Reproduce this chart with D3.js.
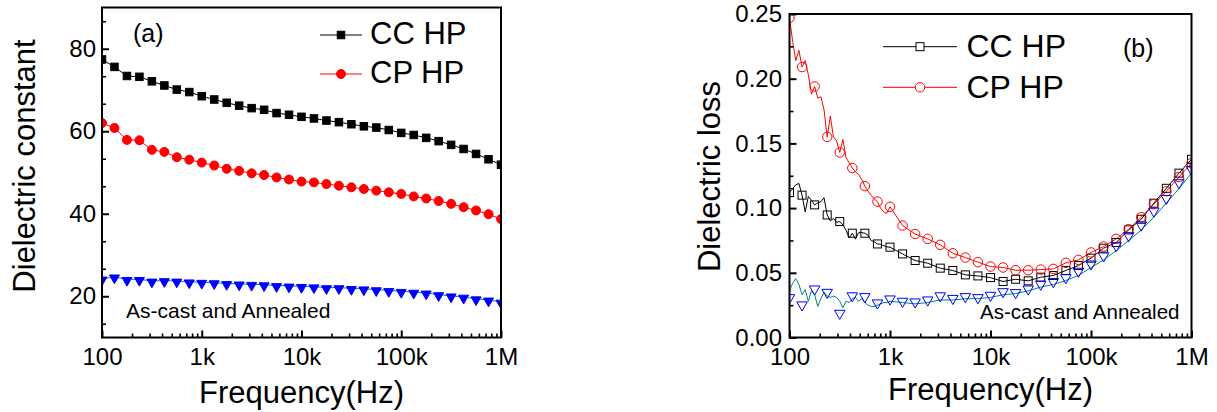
<!DOCTYPE html>
<html>
<head>
<meta charset="utf-8">
<script src="https://cdn.jsdelivr.net/npm/d3@7"></script>
<style>
  html, body { margin: 0; padding: 0; background: #fff; }
  svg { display: block; font-family: "Liberation Sans", Arial, Helvetica, sans-serif; }
</style>
</head>
<body>
<svg id="chart" width="1217" height="412"></svg>
<script>
// ---------- data ----------
const freqTickValues = [100, 1e3, 1e4, 1e5, 1e6];
const freqTickLabels = ["100", "1k", "10k", "100k", "1M"];

// measurement sweep, 8 points per decade (Hz)
const sweepFreq = [100, 133.35, 177.83, 237.14, 316.23, 421.70, 562.34, 749.89,
  1000, 1333.5, 1778.3, 2371.4, 3162.3, 4217.0, 5623.4, 7498.9,
  10000, 13335, 17783, 23714, 31623, 42170, 56234, 74989,
  100000, 133352, 177828, 237137, 316228, 421697, 562341, 749894, 1000000];

// (a) dielectric constant
const constCC = [77.4, 75.6, 73.4, 73.2, 72.1, 71.1, 70.1, 69.5, 68.5, 67.7, 66.9, 66.2, 65.6, 65.2, 64.4, 64.0,
  63.5, 63.1, 62.6, 62.2, 61.7, 61.2, 60.9, 60.3, 59.6, 59.1, 58.4, 57.6, 56.7, 55.7, 54.5, 53.2, 51.9];
const constCP = [62.0, 60.8, 57.9, 57.8, 55.5, 55.0, 53.7, 53.1, 52.4, 51.7, 50.9, 50.4, 49.8, 49.4, 48.8, 48.3,
  47.8, 47.6, 47.2, 46.8, 46.4, 46.0, 45.6, 45.2, 44.8, 44.2, 43.7, 43.1, 42.4, 41.6, 40.8, 39.9, 38.7];
const constAsCast = [23.6, 24.1, 23.5, 23.5, 23.1, 23.2, 23.1, 22.9, 22.8, 22.7, 22.5, 22.4, 22.3, 22.2, 22.0, 21.9,
  21.8, 21.7, 21.5, 21.5, 21.3, 21.2, 21.0, 20.8, 20.6, 20.4, 20.2, 19.8, 19.5, 19.2, 18.8, 18.5, 18.0];
const constAnnealed = [24.2, 24.7, 24.1, 24.1, 23.7, 23.8, 23.7, 23.5, 23.4, 23.3, 23.1, 23.0, 22.9, 22.8, 22.6, 22.5,
  22.4, 22.3, 22.1, 22.1, 21.9, 21.8, 21.6, 21.4, 21.2, 21.0, 20.8, 20.4, 20.1, 19.8, 19.4, 19.1, 18.6];

// (b) dielectric loss: dense trace in the first decade (32 points per decade) ...
const lossFreqLow = [100, 107.46, 115.48, 124.09, 133.35, 143.30, 153.99, 165.48, 177.83, 191.09, 205.35,
  220.67, 237.14, 254.83, 273.84, 294.27, 316.23, 339.82, 365.17, 392.42, 421.70, 453.16, 486.97,
  523.30, 562.34, 604.30, 649.38, 697.83, 749.89, 805.84, 865.96, 930.57, 1000];
const lossCCLow = [0.112, 0.115, 0.118, 0.119, 0.110, 0.097, 0.109, 0.106, 0.1025, 0.104, 0.105, 0.108, 0.0947,
  0.090, 0.092, 0.089, 0.0896, 0.087, 0.083, 0.077, 0.0806, 0.076, 0.081, 0.081, 0.0806, 0.079, 0.075,
  0.074, 0.0723, 0.072, 0.071, 0.070, 0.0698];
const lossCPLow = [0.247, 0.229, 0.214, 0.222, 0.209, 0.214, 0.203, 0.188, 0.194, 0.185, 0.186, 0.176, 0.155,
  0.171, 0.155, 0.152, 0.143, 0.153, 0.139, 0.135, 0.131, 0.128, 0.126, 0.122, 0.117, 0.113, 0.110,
  0.107, 0.105, 0.100, 0.097, 0.096, 0.101];
const lossAnnealedLow = [0.036, 0.042, 0.0455, 0.041, 0.033, 0.037, 0.028, 0.036, 0.033, 0.024, 0.030, 0.035,
  0.032, 0.031, 0.032, 0.031, 0.028, 0.023, 0.028, 0.027, 0.030, 0.031, 0.028, 0.030, 0.027, 0.025,
  0.024, 0.024, 0.025, 0.026, 0.027, 0.027, 0.028];
// ... and the sweep points above 1 kHz (sweepFreq[9..32])
const lossCCHigh = [0.0646, 0.0595, 0.0574, 0.0536, 0.0518, 0.0484, 0.0476, 0.0463, 0.0433, 0.0450, 0.0438,
  0.0466, 0.0479, 0.0518, 0.0556, 0.0613, 0.0690, 0.0734, 0.0832, 0.0914, 0.1038, 0.1153, 0.1270, 0.1377];
const lossCPHigh = [0.0865, 0.0800, 0.0762, 0.0716, 0.0651, 0.0618, 0.0582, 0.0548, 0.0541, 0.0520, 0.0520,
  0.0525, 0.0530, 0.0577, 0.0600, 0.0657, 0.0703, 0.0762, 0.0837, 0.0930, 0.1030, 0.1130, 0.1240, 0.1347];
const lossAnnealedHigh = [0.027, 0.026, 0.027, 0.029, 0.029, 0.030, 0.030, 0.031, 0.033, 0.034, 0.036,
  0.039, 0.041, 0.044, 0.048, 0.054, 0.060, 0.067, 0.075, 0.083, 0.093, 0.104, 0.115, 0.127];
// as-cast loss, symbols only, one per sweep point
const lossAsCast = [0.0296, 0.0240, 0.0363, 0.0337, 0.0175, 0.0310, 0.0304, 0.0255, 0.0286, 0.0268, 0.0263,
  0.0278, 0.0310, 0.0290, 0.0304, 0.0296, 0.0314, 0.0342, 0.0335, 0.0363, 0.0400, 0.0420, 0.0450,
  0.0500, 0.0556, 0.0618, 0.0698, 0.0775, 0.0857, 0.0965, 0.1063, 0.1184, 0.1287];

const seriesNames = ["CC HP", "CP HP"];
const sampleNote = "As-cast and Annealed";

// ---------- drawing ----------
const svg = d3.select("#chart");
const BLACK = "#000", RED = "#ff0000", BLUE = "#0000ff", TEAL = "#008080";

function zip(xs, ys) { return xs.map((f, i) => [f, ys[i]]); }

function symbol(g, shape, cx, cy, size, fill, stroke) {
  if (shape === "square") {
    g.append("rect").attr("x", cx - size / 2).attr("y", cy - size / 2)
      .attr("width", size).attr("height", size)
      .attr("fill", fill).attr("stroke", stroke).attr("stroke-width", 1);
  } else if (shape === "circle") {
    g.append("circle").attr("cx", cx).attr("cy", cy).attr("r", size / 2)
      .attr("fill", fill).attr("stroke", stroke).attr("stroke-width", 1);
  } else if (shape === "tri") {
    const w = size, h = size * 0.87;
    g.append("path")
      .attr("d", `M${cx - w / 2},${cy - h / 2}L${cx + w / 2},${cy - h / 2}L${cx},${cy + h / 2}Z`)
      .attr("fill", fill).attr("stroke", stroke).attr("stroke-width", 1);
  }
}

function panel(box, yDomain, yMajor, yMinor, yFmt, yPad, id) {
  const x = d3.scaleLog().domain([100, 1e6]).range([box.left, box.right]);
  const y = d3.scaleLinear().domain(yDomain).range([box.bottom, box.top]);
  const g = svg.append("g");

  svg.append("clipPath").attr("id", id)
    .append("rect").attr("x", box.left).attr("y", box.top)
    .attr("width", box.right - box.left).attr("height", box.bottom - box.top);
  const plot = g.append("g").attr("clip-path", `url(#${id})`);

  // minor log ticks on the frequency axis
  const xMinor = [];
  [100, 1e3, 1e4, 1e5].forEach(d => { for (let m = 2; m <= 9; m++) xMinor.push(d * m); });

  const xAxis = g.append("g").attr("transform", `translate(0,${box.bottom})`)
    .call(d3.axisBottom(x).tickValues(freqTickValues).tickFormat((d, i) => freqTickLabels[i])
      .tickSizeInner(-7).tickSizeOuter(0).tickPadding(10.5));
  const xAxisMinor = g.append("g").attr("transform", `translate(0,${box.bottom})`)
    .call(d3.axisBottom(x).tickValues(xMinor).tickFormat("").tickSizeInner(-4).tickSizeOuter(0));
  const yAxis = g.append("g").attr("transform", `translate(${box.left},0)`)
    .call(d3.axisLeft(y).tickValues(yMajor).tickFormat(yFmt)
      .tickSizeInner(-7).tickSizeOuter(0).tickPadding(yPad));
  const yAxisMinor = g.append("g").attr("transform", `translate(${box.left},0)`)
    .call(d3.axisLeft(y).tickValues(yMinor).tickFormat("").tickSizeInner(-4).tickSizeOuter(0));

  [xAxis, xAxisMinor, yAxis, yAxisMinor].forEach(a => {
    a.select(".domain").remove();
    a.selectAll("line").attr("stroke", BLACK).attr("stroke-width", 2);
    a.selectAll("text").attr("font-size", 24).attr("fill", BLACK)
      .attr("font-family", '"Liberation Sans", Arial, sans-serif');
  });
  [xAxisMinor, yAxisMinor].forEach(a => a.selectAll("line").attr("stroke-width", 1.6));

  g.append("rect").attr("x", box.left).attr("y", box.top)
    .attr("width", box.right - box.left).attr("height", box.bottom - box.top)
    .attr("fill", "none").attr("stroke", BLACK).attr("stroke-width", 2);

  const line = d3.line().x(d => x(d[0])).y(d => y(d[1]));
  return { x, y, g, plot, line };
}

// ---- (a) dielectric constant ----
const A = panel({ left: 102, right: 501, top: 7.5, bottom: 337.5 }, [10, 90],
  [20, 40, 60, 80], [13.33, 26.67, 33.33, 46.67, 53.33, 66.67, 73.33, 86.67],
  d3.format("d"), 6, "clipA");

A.plot.append("path").datum(zip(sweepFreq, constAnnealed)).attr("d", A.line)
  .attr("fill", "none").attr("stroke", TEAL).attr("stroke-width", 1);
A.plot.append("path").datum(zip(sweepFreq, constCC)).attr("d", A.line)
  .attr("fill", "none").attr("stroke", BLACK).attr("stroke-width", 1);
A.plot.append("path").datum(zip(sweepFreq, constCP)).attr("d", A.line)
  .attr("fill", "none").attr("stroke", RED).attr("stroke-width", 1);
sweepFreq.forEach((f, i) => {
  symbol(A.plot, "square", A.x(f), A.y(constCC[i]), 7.5, BLACK, BLACK);
  symbol(A.plot, "circle", A.x(f), A.y(constCP[i]), 9, RED, RED);
  symbol(A.plot, "tri", A.x(f), A.y(constAsCast[i]), 10, BLUE, BLUE);
});

// legend (a)
[[35, BLACK, "square"], [74, RED, "circle"]].forEach(([ly, c, s], i) => {
  A.g.append("line").attr("x1", 320).attr("x2", 362).attr("y1", ly).attr("y2", ly)
    .attr("stroke", c).attr("stroke-width", 1);
  symbol(A.g, s, 341, ly, s === "square" ? 7.5 : 9, c, c);
  A.g.append("text").attr("x", 370).attr("y", ly + 8.5).attr("font-size", 31)
    .attr("fill", BLACK).text(seriesNames[i]);
});
A.g.append("text").attr("x", 133).attr("y", 41.5).attr("font-size", 25).text("(a)");
A.g.append("text").attr("x", 126).attr("y", 317.5).attr("font-size", 21).text(sampleNote);
A.g.append("text").attr("x", 301.5).attr("y", 403).attr("font-size", 31)
  .attr("text-anchor", "middle").text("Frequency(Hz)");
A.g.append("text").attr("transform", "translate(35,166) rotate(-90)").attr("font-size", 31)
  .attr("text-anchor", "middle").text("Dielectric constant");

// ---- (b) dielectric loss ----
const B = panel({ left: 789.5, right: 1191.5, top: 14, bottom: 337.5 }, [0, 0.25],
  [0, 0.05, 0.10, 0.15, 0.20, 0.25], [0.025, 0.075, 0.125, 0.175, 0.225],
  d3.format(".2f"), 7.5, "clipB");

const highFreq = sweepFreq.slice(9);
const ccTrace = zip(lossFreqLow, lossCCLow).concat(zip(highFreq, lossCCHigh));
const cpTrace = zip(lossFreqLow, lossCPLow).concat(zip(highFreq, lossCPHigh));
const anTrace = zip(lossFreqLow, lossAnnealedLow).concat(zip(highFreq, lossAnnealedHigh));

B.plot.append("path").datum(anTrace).attr("d", B.line)
  .attr("fill", "none").attr("stroke", TEAL).attr("stroke-width", 1);
B.plot.append("path").datum(ccTrace).attr("d", B.line)
  .attr("fill", "none").attr("stroke", BLACK).attr("stroke-width", 1);
B.plot.append("path").datum(cpTrace).attr("d", B.line)
  .attr("fill", "none").attr("stroke", RED).attr("stroke-width", 1);

// symbols sit on every 4th point of the dense trace, then on every sweep point
const ccSym = ccTrace.filter((d, i) => i >= 33 || i % 4 === 0);
const cpSym = cpTrace.filter((d, i) => i >= 33 || i % 4 === 0);
ccSym.forEach(d => symbol(B.plot, "square", B.x(d[0]), B.y(d[1]), 8, "none", BLACK));
cpSym.forEach(d => symbol(B.plot, "circle", B.x(d[0]), B.y(d[1]), 9.5, "none", RED));
sweepFreq.forEach((f, i) => symbol(B.plot, "tri", B.x(f), B.y(lossAsCast[i]), 10.5, "none", BLUE));

// legend (b)
[[46.7, BLACK, "square"], [87.3, RED, "circle"]].forEach(([ly, c, s], i) => {
  B.g.append("line").attr("x1", 883).attr("x2", 957).attr("y1", ly).attr("y2", ly)
    .attr("stroke", c).attr("stroke-width", 1);
  symbol(B.g, s, 920, ly, s === "square" ? 8 : 9.5, "#fff", c);
  B.g.append("text").attr("x", 966.5).attr("y", ly + 10.5).attr("font-size", 32)
    .attr("fill", BLACK).text(seriesNames[i]);
});
B.g.append("text").attr("x", 1123).attr("y", 56.5).attr("font-size", 25).text("(b)");
B.g.append("text").attr("x", 980).attr("y", 319.3).attr("font-size", 20.5).text(sampleNote);
B.g.append("text").attr("x", 990.5).attr("y", 400).attr("font-size", 31)
  .attr("text-anchor", "middle").text("Frequency(Hz)");
B.g.append("text").attr("transform", "translate(720,176.5) rotate(-90)").attr("font-size", 31)
  .attr("text-anchor", "middle").text("Dielectric loss");
</script>
</body>
</html>
